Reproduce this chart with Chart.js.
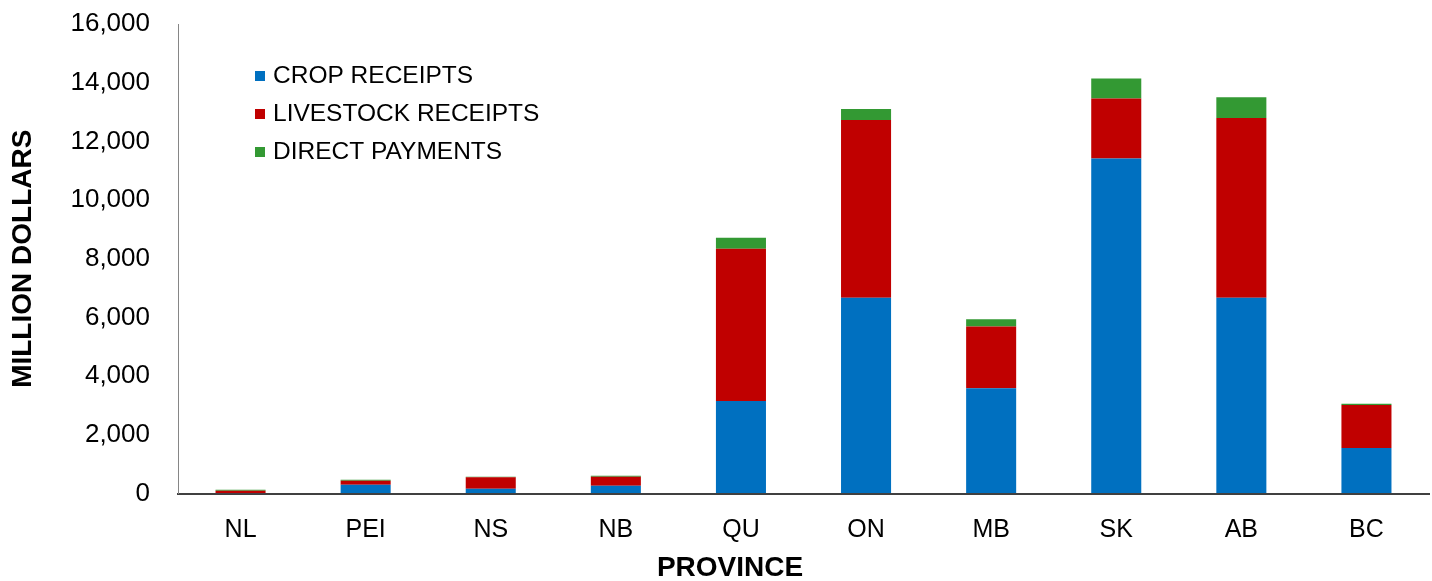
<!DOCTYPE html>
<html>
<head>
<meta charset="utf-8">
<script src="https://cdn.jsdelivr.net/npm/chart.js@4"></script>
<style>
  body { margin: 0; background: #fff; }
  #wrap { width: 1432px; height: 581px; }
</style>
</head>
<body>
<div id="wrap"><canvas id="chart-1" width="1432" height="581"></canvas></div>
<script>
const provinces = ["NL", "PEI", "NS", "NB", "QU", "ON", "MB", "SK", "AB", "BC"];
const cropReceipts = [10, 300, 165, 265, 3150, 6670, 3590, 11420, 6670, 1550];
const livestockReceipts = [85, 135, 390, 305, 5190, 6060, 2100, 2040, 6130, 1470];
const directPayments = [30, 35, 20, 35, 375, 375, 250, 680, 700, 35];
const yTicks = [0, 2000, 4000, 6000, 8000, 10000, 12000, 14000, 16000];

const font = "'Liberation Sans', Arial, sans-serif";

// legend inside the plot area and the x title (centred on the page, not the axis)
const extras = {
  id: "extras",
  afterDraw(chart) {
    const c = chart.ctx;
    c.save();
    c.font = "24.5px " + font;
    c.textBaseline = "middle";
    chart.data.datasets.forEach((ds, i) => {
      const y = 76 + i * 38;
      c.fillStyle = ds.backgroundColor;
      c.fillRect(255, y - 5, 10, 10);
      c.fillStyle = "#000";
      c.fillText(ds.label, 273, y);
    });
    c.font = "bold 28px " + font;
    c.textAlign = "center";
    c.fillText("PROVINCE", 730, 568);
    c.restore();
  },
};

const ctx_1 = document.getElementById("chart-1");
new Chart(ctx_1, {
  type: "bar",
  data: {
    labels: provinces,
    datasets: [
      { label: "CROP RECEIPTS", data: cropReceipts, backgroundColor: "#0070C0" },
      { label: "LIVESTOCK RECEIPTS", data: livestockReceipts, backgroundColor: "#C00000" },
      { label: "DIRECT PAYMENTS", data: directPayments, backgroundColor: "#339933" },
    ],
  },
  options: {
    responsive: false,
    animation: false,
    layout: { padding: { top: 24, right: 3, left: 0, bottom: 0 } },
    datasets: { bar: { barPercentage: 0.4, categoryPercentage: 1 } },
    plugins: {
      legend: { display: false },
      tooltip: { enabled: false },
    },
    scales: {
      x: {
        stacked: true,
        grid: { display: false, drawTicks: false },
        border: { display: true, color: "#404040", width: 2 },
        ticks: { color: "#000", font: { family: font, size: 25 }, padding: 22 },
        afterFit(scale) { scale.height = 87.5; },
      },
      y: {
        stacked: true,
        min: 0,
        max: 16000,
        afterBuildTicks(scale) { scale.ticks = yTicks.map(v => ({ value: v })); },
        // invisible tick marks give the label gap without padding the top
        grid: { display: true, drawOnChartArea: false, drawTicks: true, tickLength: 28, color: "rgba(0,0,0,0)" },
        border: { display: true, color: "#868686", width: 1 },
        ticks: {
          color: "#000",
          font: { family: font, size: 26 },
          padding: 0,
          callback: v => v.toLocaleString("en-US"),
        },
        title: {
          display: true,
          text: "MILLION DOLLARS",
          color: "#000",
          font: { family: font, size: 28, weight: "bold" },
          padding: { top: 6, bottom: 0 },
        },
        afterFit(scale) { scale.width = 178; },
      },
    },
  },
  plugins: [extras],
});
</script>
</body>
</html>
